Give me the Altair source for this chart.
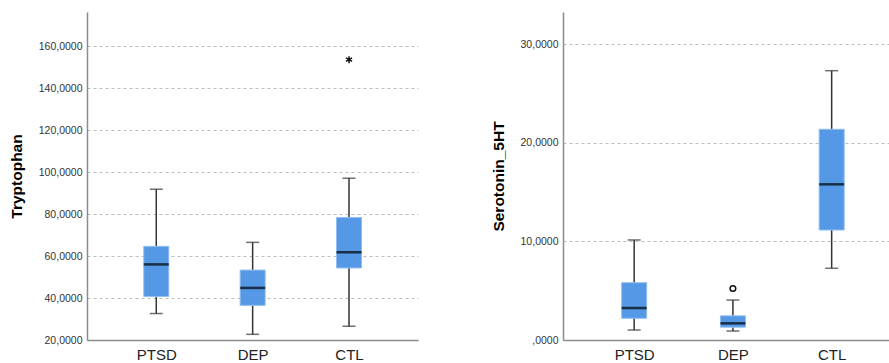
import altair as alt
import pandas as pd

groups = ["PTSD", "DEP", "CTL"]

# Tryptophan: whisker ends, quartiles and medians per group
trp_low = [32.6, 22.7, 26.5]
trp_q1 = [40.7, 36.5, 54.3]
trp_med = [56.0, 44.8, 61.8]
trp_q3 = [64.6, 53.3, 78.3]
trp_high = [91.8, 66.5, 97.0]
trp_extreme_group = ["CTL"]
trp_extreme_value = [153.5]
trp_ticks = [20, 40, 60, 80, 100, 120, 140, 160]

# Serotonin (5-HT): whisker ends, quartiles and medians per group
ser_low = [1.01, 0.91, 7.27]
ser_q1 = [2.20, 1.30, 11.15]
ser_med = [3.24, 1.69, 15.78]
ser_q3 = [5.81, 2.45, 21.36]
ser_high = [10.14, 4.05, 27.30]
ser_outlier_group = ["DEP"]
ser_outlier_value = [5.22]
ser_ticks = [0, 10, 20, 30]

FONT = "Liberation Sans"
BOX_FILL = "#5598e5"
BOX_EDGE = "#8fbdf0"
WHISKER = "#333333"
ASTERISK = "M0,-1L0,1M-0.866,-0.5L0.866,0.5M-0.866,0.5L0.866,-0.5"

group_label_expr = "[" + ",".join(f"'{g}'" for g in groups) + "][datum.value]"
value_label_expr = "datum.value == 0 ? ',0000' : replace(format(datum.value, '.4f'), '.', ',')"


def panel(low, q1, med, q3, high, out_groups, out_values, out_shape, out_size,
          title, y_domain, y_ticks, width, x_domain):
    summary = pd.DataFrame({
        "group": groups,
        "pos": list(range(len(groups))),
        "low": low, "q1": q1, "med": med, "q3": q3, "high": high,
    })
    outliers = pd.DataFrame({
        "group": out_groups,
        "pos": [groups.index(g) for g in out_groups],
        "value": out_values,
    })

    x_axis = alt.Axis(
        values=list(range(len(groups))), labelExpr=group_label_expr, title=None,
        grid=False, ticks=False, domainColor="#8c8c8c", domainWidth=1.5,
        labelFont=FONT, labelFontSize=15, labelColor="#222222", labelPadding=7,
        labelFlush=False,
    )
    y_axis = alt.Axis(
        values=y_ticks, labelExpr=value_label_expr, title=title,
        grid=True, gridDash=[3, 3], gridColor="#bdbdbd", gridWidth=1,
        ticks=False, domainColor="#8c8c8c", domainWidth=1.5,
        labelFont=FONT, labelFontSize=10.5, labelColor="#333333", labelPadding=5,
        titleFont=FONT, titleFontSize=15.5, titleFontWeight="bold",
        titleColor="#000000", titlePadding=14,
    )
    x_scale = alt.Scale(domain=x_domain, nice=False, zero=False)
    y_scale = alt.Scale(domain=y_domain, nice=False, zero=False)

    def x_enc():
        return alt.X("pos:Q", scale=x_scale, axis=x_axis)

    def y_enc(field):
        return alt.Y(f"{field}:Q", scale=y_scale, axis=y_axis, title=title)

    base = alt.Chart(summary)
    lower_whisker = base.mark_rule(color=WHISKER, strokeWidth=1.5).encode(
        x=x_enc(), y=y_enc("low"), y2="q1:Q")
    upper_whisker = base.mark_rule(color=WHISKER, strokeWidth=1.5).encode(
        x=x_enc(), y=y_enc("q3"), y2="high:Q")
    box = base.mark_bar(size=25, color=BOX_FILL, stroke=BOX_EDGE, strokeWidth=1).encode(
        x=x_enc(), y=y_enc("q1"), y2="q3:Q")
    median = base.mark_tick(orient="horizontal", size=25, thickness=2.5, color="#000000").encode(
        x=x_enc(), y=y_enc("med"))
    cap_low = base.mark_tick(orient="horizontal", size=13, thickness=1.5, color=WHISKER).encode(
        x=x_enc(), y=y_enc("low"))
    cap_high = base.mark_tick(orient="horizontal", size=13, thickness=1.5, color=WHISKER).encode(
        x=x_enc(), y=y_enc("high"))
    points = alt.Chart(outliers).mark_point(
        shape=out_shape, size=out_size, filled=False, stroke="#111111", strokeWidth=1.5, opacity=1
    ).encode(x=x_enc(), y=y_enc("value"))

    return alt.layer(
        lower_whisker, upper_whisker, box, median, cap_low, cap_high, points
    ).properties(width=width, height=328)


left = panel(trp_low, trp_q1, trp_med, trp_q3, trp_high,
             trp_extreme_group, trp_extreme_value, ASTERISK, 50,
             "Tryptophan", [20, 176.2], trp_ticks, 331, [-0.667, 2.664])
right = panel(ser_low, ser_q1, ser_med, ser_q3, ser_high,
              ser_outlier_group, ser_outlier_value, "circle", 32,
              "Serotonin_5HT", [0, 33.25], ser_ticks, 326, [-0.67, 2.53])

chart = alt.hconcat(left, right, spacing=73).properties(
    padding={"left": 9, "top": 12, "right": 0, "bottom": 0},
    background="#ffffff",
).configure_view(stroke=None)

chart.save("out.html", embed_options={"renderer": "svg", "actions": False})
